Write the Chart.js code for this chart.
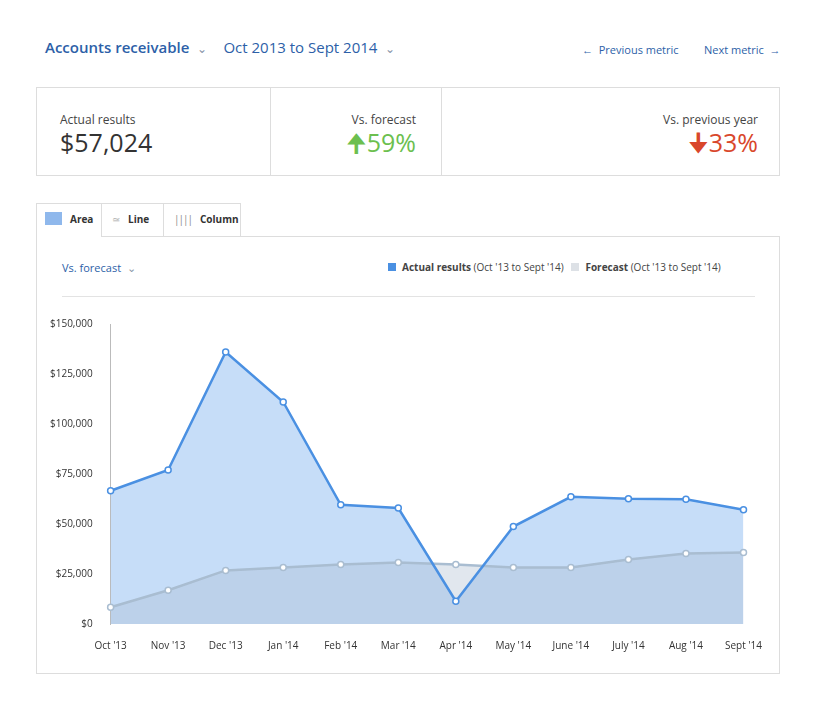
<!DOCTYPE html>
<html>
<head>
<meta charset="utf-8">
<script src="https://cdn.jsdelivr.net/npm/chart.js@4"></script>
<style>
  body { margin: 0; background: #fff; font-family: "Open Sans", sans-serif; color: #333; }
  .wrap { position: relative; width: 832px; height: 708px; }
  .title { position: absolute; left: 45px; top: 37px; font-size: 15px; color: #2d5fa8; }
  .title b { font-weight: 600; }
  .title .chev { color: #8a96a8; margin: 0 16px 0 8px; font-size: 12px; }
  .nav { position: absolute; top: 42px; font-size: 11px; color: #2d5fa8; }
  .stats { position: absolute; left: 36px; top: 87px; width: 744px; height: 89px; border: 1px solid #ddd; box-sizing: border-box; }
  .stat { position: absolute; top: 0; height: 87px; }
  .stat .lbl { position: absolute; top: 23px; font-size: 12px; color: #444; white-space: nowrap; }
  .stat .val { position: absolute; top: 37px; font-size: 25px; white-space: nowrap; }
  .tabs { position: absolute; left: 36px; top: 203px; height: 34px; }
  .tab { position: absolute; top: 0; height: 33px; border: 1px solid #ddd; border-bottom: none; box-sizing: border-box; font-size: 10px; font-weight: 700; line-height: 31px; }
  .panel { position: absolute; left: 36px; top: 236px; width: 744px; height: 438px; border: 1px solid #ddd; box-sizing: border-box; }
  .legend { position: absolute; top: 260px; font-size: 10px; color: #444; }
  .sq { display: inline-block; width: 8px; height: 8px; margin-right: 6px; vertical-align: 0; }
  .sep { position: absolute; left: 62px; top: 296px; width: 693px; height: 1px; background: #e3e3e3; }
  .chartbox { position: absolute; left: 40px; top: 308px; width: 730px; height: 352px; }
</style>
</head>
<body>
<div class="wrap">
  <div class="title"><b>Accounts receivable</b><span class="chev">&#8964;</span>Oct 2013 to Sept 2014<span class="chev">&#8964;</span></div>
  <div class="nav" style="left:582px">&larr;&nbsp; Previous metric</div>
  <div class="nav" style="left:704px">Next metric &nbsp;&rarr;</div>

  <div class="stats">
    <div class="stat" style="left:0;width:233px;border-right:1px solid #ddd">
      <div class="lbl" style="left:23px">Actual results</div>
      <div class="val" style="left:23px;color:#333">$57,024</div>
    </div>
    <div class="stat" style="left:233px;width:171px;border-right:1px solid #ddd">
      <div class="lbl" style="right:25px">Vs. forecast</div>
      <div class="val" style="right:25px;color:#6cbf4f">&#129033;59%</div>
    </div>
    <div class="stat" style="left:404px;width:340px">
      <div class="lbl" style="right:23px">Vs. previous year</div>
      <div class="val" style="right:23px;color:#d9472b">&#129035;33%</div>
    </div>
  </div>

  <div class="panel"></div>
  <div class="tabs">
    <div class="tab" style="left:0;width:66px;background:#fff;height:34px;padding-left:8px"><span style="display:inline-block;width:17px;height:13px;background:#8fb8ec;vertical-align:-2px;margin-right:8px"></span>Area</div>
    <div class="tab" style="left:65px;width:63px;padding-left:10px;background:#fff"><span style="color:#aaa;margin-right:8px;font-weight:400">&#8771;</span>Line</div>
    <div class="tab" style="left:127px;width:78px;padding-left:10px;background:#fff"><span style="color:#888;margin-right:8px;letter-spacing:-1px;font-weight:400">||||</span>Column</div>
  </div>

  <div class="legend" style="left:62px;color:#2d5fa8;font-size:11px">Vs. forecast &nbsp;<span style="color:#8a96a8">&#8964;</span></div>
  <div class="legend" style="left:388px"><span class="sq" style="background:#4a90e2"></span><b>Actual results</b> (Oct '13 to Sept '14) &nbsp;&nbsp;<span class="sq" style="background:#dde1e6"></span><b>Forecast</b> (Oct '13 to Sept '14)</div>
  <div class="sep"></div>

  <div class="chartbox"><canvas id="chart"></canvas></div>
</div>

<script>
const months = ["Oct '13", "Nov '13", "Dec '13", "Jan '14", "Feb '14", "Mar '14", "Apr '14", "May '14", "June '14", "July '14", "Aug '14", "Sept '14"];
const actualResults = [66600, 77000, 136000, 111000, 59600, 58000, 11400, 48700, 63600, 62600, 62400, 57100];
const forecast = [8400, 16900, 26800, 28300, 29800, 30800, 29800, 28300, 28300, 32300, 35300, 35800];

const ctx = document.getElementById('chart');
new Chart(ctx, {
    type: 'line',
    data: {
        labels: months,
        datasets: [
            // actual fill (drawn first, underneath)
            {
                label: 'Actual fill',
                data: actualResults,
                fill: 'origin',
                backgroundColor: 'rgba(160,199,243,0.6)',
                borderWidth: 0,
                pointRadius: 0,
                order: 3
            },
            {
                label: 'Forecast',
                data: forecast,
                fill: 'origin',
                backgroundColor: 'rgba(170,185,205,0.35)',
                borderColor: '#a9bdd1',
                borderWidth: 2.5,
                pointRadius: 3,
                pointBackgroundColor: '#fff',
                pointBorderColor: '#a9bdd1',
                pointBorderWidth: 1.5,
                order: 2
            },
            {
                label: 'Actual results',
                data: actualResults,
                fill: false,
                borderColor: '#4a90e2',
                borderWidth: 2.5,
                pointRadius: 3,
                pointBackgroundColor: '#fff',
                pointBorderColor: '#4a90e2',
                pointBorderWidth: 1.5,
                order: 1
            }
        ]
    },
    options: {
        responsive: true,
        maintainAspectRatio: false,
        animation: false,
        layout: { padding: { right: 15, left: 0, top: 6 } },
        plugins: { legend: { display: false }, tooltip: { enabled: false } },
        scales: {
            x: {
                offset: false,
                grid: { display: false },
                border: { display: false },
                ticks: { color: '#333', font: { family: 'Open Sans', size: 10 }, maxRotation: 0, autoSkip: false, padding: 8 }
            },
            y: {
                min: 0, max: 150000,
                grid: { display: false },
                border: { color: '#bbb' },
                ticks: {
                    stepSize: 25000, color: '#333', padding: 10,
                    font: { family: 'Open Sans', size: 10 },
                    callback: v => '$' + v.toLocaleString('en-US')
                }
            }
        }
    }
});
</script>
</body>
</html>
